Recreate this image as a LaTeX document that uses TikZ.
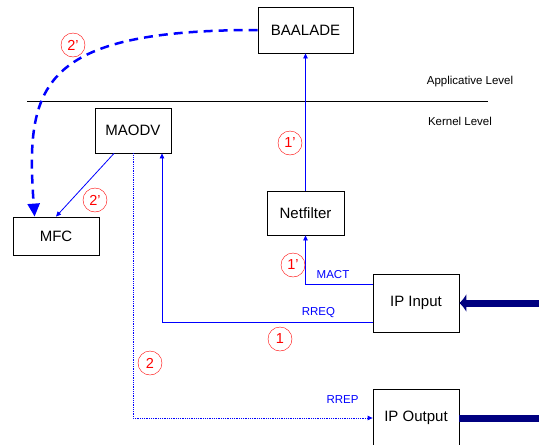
\documentclass[tikz,border=0pt]{standalone}
\usepackage{fontspec}
\setmainfont{Liberation Sans}
\usetikzlibrary{shapes,arrows.meta}
\usetikzlibrary{positioning}
\tikzstyle{block} = [draw, rectangle, line width=0.8pt, inner sep=0pt,
    font=\fontsize{15}{15}\selectfont]
\tikzstyle{num} = [draw=red, circle, text=red, minimum size=24pt, inner sep=0pt,
    font=\fontsize{14.5}{14.5}\selectfont]
\tikzstyle{msg} = [text=blue, font=\fontsize{11.5}{11.5}\selectfont]
\tikzstyle{wire} = [blue, line width=0.8pt, -{Triangle[length=5pt,width=4.5pt]}]

\begin{document}
\begin{tikzpicture}[x=1pt, y=-1pt]
  \useasboundingbox (0,0) rectangle (539,445);
  \clip (0,0) rectangle (539,445);
  % boxes
  \node [block, minimum width=95pt, minimum height=46pt] (baalade) at (305.5,30)
  {BAALADE};
  \node [block, minimum width=77pt, minimum height=44pt, below of=baalade,
  node distance=183pt] (netfilter) {Netfilter};
  \node [block, minimum width=76pt, minimum height=45pt] (maodv) at (133,130.5)
  {MAODV};
  \node [block, minimum width=86pt, minimum height=38pt] (mfc) at (56,236)
  {MFC};
  \node [block, minimum width=86pt, minimum height=58pt] (ipin) at (416,303)
  {IP Input};
  \node [block, minimum width=86pt, minimum height=58pt, below of=ipin,
  node distance=115pt] (ipout) {IP Output};
  % levels
  \draw [line width=0.8pt] (27,101) -- (488,101);
  \node [font=\fontsize{11.5}{11.5}\selectfont] (applevel) at (470,82)
  {Applicative Level};
  \node [font=\fontsize{11.5}{11.5}\selectfont] (kernlevel) at (460,121)
  {Kernel Level};
  % outside wires
  \coordinate (inwire) at (539,303);
  \coordinate (outwire) at (539,418);
  \draw [-{Latex[length=7pt,width=19pt]}, line width=7pt, color={rgb,255:red,0;green,0;blue,128}]
  (inwire) -- (ipin.east);
  \draw [line width=7pt, color={rgb,255:red,0;green,0;blue,128}]
  (ipout.east) -- (outwire);
  % messages
  \draw [wire] (netfilter.north) -- (baalade.south);
  \draw [wire] ([yshift=19pt]ipin.west) -| (netfilter.south);
  \draw [wire] ([yshift=-19pt]ipin.west) -| ([xshift=29pt]maodv.south);
  \draw [wire, densely dotted] (maodv.south) |- (ipout.west);
  \draw [wire] ([xshift=-19pt]maodv.south) -- (mfc.north);
  \draw [blue, line width=2.5pt, dash pattern=on 9pt off 6pt,
  -{Triangle[length=13pt,width=12pt]}]
  (baalade.west) .. controls (40,30) and (25,85) .. ([xshift=22pt]mfc.north west);
  \node [msg] (mact) at (333,275) {MACT};
  \node [msg] (rreq) at (318.5,313) {RREQ};
  \node [msg] (rrep) at (342.5,400) {RREP};
  % steps
  \node [num] (s2a) at (73,45) {2'};
  \node [num] (s1a) at (290,143) {1'};
  \node [num] (s2b) at (95,200) {2'};
  \node [num] (s1b) at (293,265) {1'};
  \node [num] (s1) at (280,339) {1};
  \node [num] (s2) at (150,363) {2};
\end{tikzpicture}
\end{document}
